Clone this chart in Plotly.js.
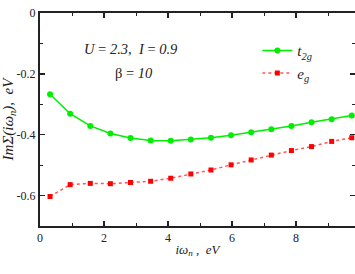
<!DOCTYPE html>
<html>
<head>
<meta charset="utf-8">
<script src="https://cdn.plot.ly/plotly-3.0.1.min.js"></script>
<style>html,body{margin:0;padding:0;background:#fff;}#chart{width:355px;height:274px;}</style>
</head>
<body>
<div id="chart"></div>
<script>
// Matsubara frequencies (beta = 10), eV
var omega = [0.314, 0.942, 1.571, 2.199, 2.827, 3.456, 4.084, 4.712, 5.341, 5.969, 6.597, 7.226, 7.854, 8.482, 9.111, 9.739];
var t2g = [-0.267, -0.331, -0.371, -0.396, -0.411, -0.419, -0.420, -0.416, -0.410, -0.402, -0.392, -0.382, -0.371, -0.359, -0.349, -0.337];
var eg  = [-0.603, -0.564, -0.560, -0.561, -0.557, -0.553, -0.543, -0.529, -0.516, -0.499, -0.483, -0.467, -0.452, -0.439, -0.422, -0.410];
var xTicks = [0, 2, 4, 6, 8];
var yTicks = [0, -0.2, -0.4, -0.6];

var F = "Liberation Serif";

var traces = [
  {x: omega, y: t2g, name: "<i>t</i><sub><i>2g</i></sub>", mode: "lines+markers",
   line: {color: "#00ee00", width: 1.5}, marker: {color: "#00ee00", symbol: "circle", size: 6}},
  {x: omega, y: eg, name: "<i>e</i><sub><i>g</i></sub>", mode: "lines+markers",
   line: {color: "#ff5555", width: 1.5, dash: "dot"}, marker: {color: "#ff0000", symbol: "square", size: 5}}
];

var axisCommon = {
  showgrid: false, zeroline: false, showline: true, linecolor: "#222", linewidth: 2,
  mirror: "allticks", ticks: "inside", ticklen: 5, tickwidth: 1.5, tickcolor: "#222",
  tickfont: {family: F, size: 12, color: "#222"}
};

var layout = {
  width: 355, height: 274,
  margin: {l: 40, r: 0, t: 13, b: 48},
  paper_bgcolor: "#fff", plot_bgcolor: "#fff",
  font: {family: F, color: "#222"},
  showlegend: true,
  legend: {x: 0.69, y: 0.9, xanchor: "left", yanchor: "top", bgcolor: "rgba(0,0,0,0)",
           font: {family: F, size: 15, color: "#222"}, tracegroupgap: 0},
  xaxis: Object.assign({}, axisCommon, {
    range: [0, 9.84], tickvals: xTicks, ticktext: xTicks.map(String),
    minor: {dtick: 1, tick0: 0, ticks: "inside", ticklen: 3, tickwidth: 1, tickcolor: "#222"},
    title: {text: "<i>i</i>ω<sub><i>n</i></sub> ,  <i>eV</i>", standoff: 0,
            font: {family: F, size: 13, color: "#222", style: "italic"}}
  }),
  yaxis: Object.assign({}, axisCommon, {
    range: [-0.7, 0], tickvals: yTicks, ticktext: ["0", "-0.2", "-0.4", "-0.6"],
    minor: {dtick: 0.1, tick0: 0, ticks: "inside", ticklen: 3, tickwidth: 1, tickcolor: "#222"},
    title: {text: "<i>Im</i>Σ(<i>i</i>ω<sub><i>n</i></sub>),  <i>eV</i>", standoff: 4,
            font: {family: F, size: 15, color: "#222", style: "italic"}}
  }),
  annotations: [
    {xref: "paper", yref: "paper", x: 0.289, y: 0.831, xanchor: "center", yanchor: "middle", showarrow: false,
     text: "<i>U</i> = <i>2.3</i>,  <i>I</i> = <i>0.9</i>", font: {family: F, size: 14.5, color: "#222"}},
    {xref: "paper", yref: "paper", x: 0.297, y: 0.718, xanchor: "center", yanchor: "middle", showarrow: false,
     text: "β = <i>10</i>", font: {family: F, size: 14.5, color: "#222"}}
  ]
};

Plotly.newPlot("chart", traces, layout, {displayModeBar: false, staticPlot: true});
</script>
</body>
</html>
